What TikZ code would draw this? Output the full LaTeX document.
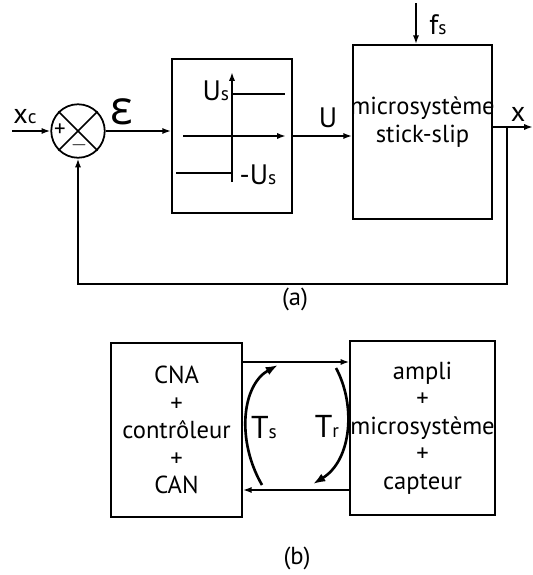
\documentclass[tikz,border=0pt]{standalone}
\usepackage{fontspec}
\setmainfont{PT Sans}
\newfontfamily\grkfont{Open Sans}
\usetikzlibrary{arrows.meta}
\newcommand{\lo}[1]{{\fontsize{11}{11}\selectfont #1}}

\begin{document}
\begin{tikzpicture}[x=0.02cm, y=-0.02cm, line width=1pt,
  >={Latex[length=5pt,width=3.5pt]},
  box/.style={draw, line width=1pt, inner sep=0pt, align=center,
    font=\fontsize{14}{15.7}\selectfont},
  lbl/.style={inner sep=0pt, font=\fontsize{16}{17}\selectfont},
  swing/.style={->, line width=1.5pt, >={Latex[length=7pt,width=5pt]}}]
\useasboundingbox (0,0) rectangle (533,575);
\node[draw, circle, minimum size=1.07cm, inner sep=0pt] (sum) at (78,131) {};
\draw (sum.north west) -- (sum.south east);
\draw (sum.north east) -- (sum.south west);
\node[lbl, font=\fontsize{13}{13}\selectfont] (plus) at (60,130) {+};
\node[lbl, font=\fontsize{13}{13}\selectfont] (minus) at (79,145) {$-$};
\node[box, minimum width=2.4cm, minimum height=3.08cm] (relay) at (232,136) {};
\node[box, minimum width=2.78cm, minimum height=3.48cm] (micro) at (422.5,132) {};
\node[lbl, align=center, font=\fontsize{14}{15.5}\selectfont] (microtxt) at (422.5,122)
  {microsystème\\stick-slip};
\coordinate (xin) at (12,131);
\coordinate (fstop) at (416,3);
\coordinate (xout) at (533,127);
\coordinate (tap) at (507,127);
\node[lbl] (xc) at (25,117) {x\lo{c}};
\node[lbl, font=\grkfont\fontsize{27}{27}\selectfont] (eps) at (122,112) {ε};
\node[lbl] (ulbl) at (328,118) {U};
\node[lbl] (fs) at (438,25) {f\lo{s}};
\node[lbl] (xlbl) at (518,114) {x};
\draw[->] (xin) -- (sum.west);
\draw[->] (sum.east) -- (sum.east -| relay.west);
\draw[->] (relay.east) -- (relay.east -| micro.west);
\draw[->] (fstop) -- (fstop |- micro.north);
\draw[->] (micro.east |- xout) -- (xout);
\draw[->] (tap) -- (tap |- 0,284) -| (sum.south);
\draw[->] (232,182) -- (232,72);
\draw[->] (183,136) -- (286,136);
\draw (232,94) -- (285,94);
\draw (176,173) -- (232,173);
\node[lbl, anchor=east] (us) at (230,91) {U\lo{s}};
\node[lbl] (mus) at (258,175) {-U\lo{s}};
\node[lbl, font=\fontsize{14}{14}\selectfont] (capa) at (295,299) {(a)};
\node[box, minimum width=2.62cm, minimum height=3.48cm] (cpu) at (176.5,430)
  {CNA\\+\\contrôleur\\+\\CAN};
\node[box, minimum width=2.82cm, minimum height=3.48cm] (plant) at (422.5,428)
  {ampli\\+\\microsystème\\+\\capteur};
\draw[->] (cpu.east |- 0,362) -- (plant.west |- 0,362);
\draw[->] (plant.west |- 0,490) -- (cpu.east |- 0,490);
\draw[swing] (262,485) .. controls (236,440) and (242,385) .. (278,365);
\draw[swing] (336,368) .. controls (356,405) and (352,460) .. (313,484);
\node[lbl, font=\fontsize{18}{18}\selectfont] (ts) at (264,428) {T\lo{s}};
\node[lbl, font=\fontsize{18}{18}\selectfont] (tr) at (327,426) {T\lo{r}};
\node[lbl, font=\fontsize{14}{14}\selectfont] (capb) at (297,558) {(b)};
\end{tikzpicture}
\end{document}
